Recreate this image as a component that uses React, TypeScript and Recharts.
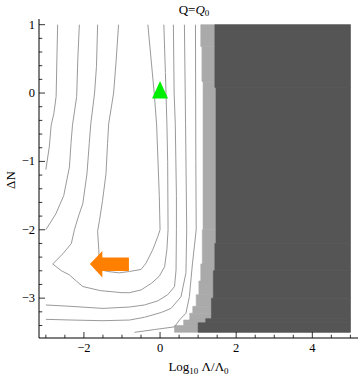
import React from 'react';
import { ScatterChart, Scatter, XAxis, YAxis, ReferenceArea } from 'recharts';

type Pt = [number, number];

// Contour lines (x = Log10 Λ/Λ0, y = ΔN)
const contourA: Pt[] = [[-2.69, 1.0], [-2.71, 0.5], [-2.73, -0.05], [-2.79, -0.3], [-2.86, -0.47], [-2.91, -0.79], [-3.0, -1.12]];
const contourB: Pt[] = [[-2.12, 1.0], [-2.16, 0.5], [-2.19, -0.05], [-2.3, -0.47], [-2.34, -0.74], [-2.38, -1.08], [-2.53, -1.5], [-2.74, -1.77], [-3.0, -2.0]];
const contourC: Pt[] = [[-1.64, 1.0], [-1.67, 0.39], [-1.72, 0.0], [-1.82, -0.45], [-1.86, -0.74], [-1.92, -1.18], [-2.03, -1.62], [-2.13, -1.78], [-2.25, -2.0], [-2.33, -2.2], [-2.55, -2.35], [-2.82, -2.5], [-2.59, -2.6], [-2.38, -2.66], [-2.2, -2.75], [-2.03, -2.83], [-1.57, -2.89], [-1.0, -2.92], [-0.8, -2.92], [-0.5, -2.88], [-0.22, -2.78], [-0.02, -2.68], [0.12, -2.54], [0.18, -2.29], [0.21, -2.0], [0.2, -1.0], [0.18, -0.45], [0.14, 0.3], [0.1, 1.0]];
const contourD: Pt[] = [[-1.09, 1.0], [-1.15, 0.5], [-1.22, 0.0], [-1.35, -0.45], [-1.38, -0.74], [-1.42, -1.18], [-1.51, -1.57], [-1.59, -1.86], [-1.64, -2.02], [-1.61, -2.29], [-1.59, -2.58], [-1.38, -2.61], [-1.07, -2.63], [-0.8, -2.61], [-0.5, -2.58], [-0.37, -2.49], [-0.19, -2.29], [-0.06, -2.1], [0.0, -2.0], [-0.02, -1.5], [-0.09, -0.47], [-0.15, -0.02], [-0.32, 1.0]];
const contourE: Pt[] = [[-3.0, -3.1], [-2.34, -3.12], [-1.5, -3.15], [-0.8, -3.13], [-0.41, -3.1], [-0.06, -3.04], [0.2, -2.95], [0.38, -2.83], [0.42, -2.59], [0.43, -2.0], [0.43, -1.5], [0.4, -0.45], [0.37, 0.0], [0.35, 1.0]];
const contourF: Pt[] = [[-3.0, -3.31], [-2.34, -3.32], [-1.5, -3.33], [-0.8, -3.32], [-0.41, -3.28], [0.03, -3.21], [0.29, -3.15], [0.55, -2.98], [0.68, -2.63], [0.7, -2.0], [0.67, -0.45], [0.64, 1.0]];
const contourG: Pt[] = [[-0.67, -3.5], [-0.15, -3.46], [0.38, -3.42], [0.51, -3.32], [0.68, -3.22], [0.77, -2.98], [0.85, -2.5], [0.95, -2.0], [0.94, -1.0], [0.93, 1.0]];
const contours: Pt[][] = [contourA, contourB, contourC, contourD, contourE, contourF, contourG];

// Excluded regions (horizontal strips: top y, bottom y, left edge x)
const lightTop = [1.0, 0.68, 0.17, -2.0, -2.5, -2.75, -2.95, -3.12, -3.22, -3.32, -3.4];
const lightBottom = [0.68, 0.17, -2.0, -2.5, -2.75, -2.95, -3.12, -3.22, -3.32, -3.4, -3.5];
const lightLeft = [1.07, 1.1, 1.13, 1.11, 1.07, 1.02, 0.95, 0.86, 0.78, 0.62, 0.38];
const darkTop = [1.0, 0.08, -2.2, -2.6, -3.0, -3.3, -3.36];
const darkBottom = [0.08, -2.2, -2.6, -3.0, -3.3, -3.36, -3.5];
const darkLeft = [1.44, 1.47, 1.44, 1.4, 1.35, 1.2, 1.0];
const regionRight = 5;

const markerTriangle = [{ x: 0, y: 0 }];
const markerArrow = [{ x: -1.33, y: -2.5 }];

const xTicks = [-3, -2.5, -2, -1.5, -1, -0.5, 0, 0.5, 1, 1.5, 2, 2.5, 3, 3.5, 4, 4.5, 5];
const xLabelTicks = [-2, 0, 2, 4];
const yTicks = [-3.4, -3.2, -3, -2.8, -2.6, -2.4, -2.2, -2, -1.8, -1.6, -1.4, -1.2, -1, -0.8, -0.6, -0.4, -0.2, 0, 0.2, 0.4, 0.6, 0.8, 1];
const yLabelTicks = [-3, -2, -1, 0, 1];

const FONT = '"Liberation Serif", "Times New Roman", serif';
const LINE = '#9a9a9a';
const isIn = (arr: number[], v: number) => arr.some((t) => Math.abs(t - v) < 1e-9);
const fmt = (v: number) => (v < 0 ? '\u2212' + Math.abs(v) : String(v));

const BottomTick = (p: any) => {
  const { x, y, payload } = p;
  const major = isIn(xLabelTicks, payload.value);
  return (
    <g>
      <line x1={x} x2={x} y1={y} y2={y - (major ? 6 : 3.3)} stroke="#000" strokeWidth={0.8} />
      {major && (
        <text x={x} y={y + 14} textAnchor="middle" fontSize={12.5} fontFamily={FONT} fill="#000">
          {fmt(payload.value)}
        </text>
      )}
    </g>
  );
};
const TopTick = (p: any) => {
  const { x, y, payload } = p;
  const major = isIn(xLabelTicks, payload.value);
  return <line x1={x} x2={x} y1={y} y2={y + (major ? 4.5 : 2.5)} stroke="#000" strokeWidth={0.8} />;
};
const LeftTick = (p: any) => {
  const { x, y, payload } = p;
  const major = isIn(yLabelTicks, payload.value);
  return (
    <g>
      <line x1={x} x2={x + (major ? 6 : 3.3)} y1={y} y2={y} stroke="#000" strokeWidth={0.8} />
      {major && (
        <text x={x - 4} y={y + 4} textAnchor="end" fontSize={12.5} fontFamily={FONT} fill="#000">
          {fmt(payload.value)}
        </text>
      )}
    </g>
  );
};
const RightTick = (p: any) => {
  const { x, y, payload } = p;
  const major = isIn(yLabelTicks, payload.value);
  return <line x1={x} x2={x - (major ? 4.5 : 2.5)} y1={y} y2={y} stroke="#000" strokeWidth={0.8} />;
};

const TriangleShape = (p: any) => {
  const { cx, cy } = p;
  return <polygon points={`${cx},${cy - 12} ${cx - 8},${cy + 5.5} ${cx + 8},${cy + 5.5}`} fill="#00ee00" />;
};
const ArrowShape = (p: any) => {
  const { cx, cy } = p;
  const tip = cx - 19.5;
  const back = cx + 19.5;
  const neck = tip + 12.4;
  return (
    <polygon
      points={`${tip},${cy} ${neck},${cy - 13} ${neck},${cy - 6.5} ${back},${cy - 6.5} ${back},${cy + 7} ${neck},${cy + 7} ${neck},${cy + 13.5}`}
      fill="#ff7f00"
    />
  );
};
const NoShape = () => <g />;

export default function App() {
  return (
    <div style={{ position: 'absolute', left: 0, top: 0, width: 360, height: 379, background: '#fff' }}>
      <ScatterChart width={360} height={379} margin={{ top: 19, right: 2, bottom: 0, left: 0 }}>
        <XAxis
          xAxisId={0}
          type="number"
          dataKey="x"
          domain={[-3.18, 5.2]}
          allowDataOverflow
          ticks={xTicks}
          interval={0}
          tickSize={0}
          tickMargin={0}
          tick={BottomTick}
          height={41}
          axisLine={{ stroke: '#000', strokeWidth: 1 }}
        />
        <XAxis
          xAxisId="top"
          orientation="top"
          type="number"
          dataKey="x"
          domain={[-3.18, 5.2]}
          allowDataOverflow
          ticks={xTicks}
          interval={0}
          tickSize={0}
          tickMargin={0}
          tick={TopTick}
          height={0}
          axisLine={{ stroke: '#000', strokeWidth: 1 }}
        />
        <YAxis
          yAxisId={0}
          type="number"
          dataKey="y"
          domain={[-3.583, 1.083]}
          allowDataOverflow
          ticks={yTicks}
          interval={0}
          tickSize={0}
          tickMargin={0}
          tick={LeftTick}
          width={39}
          axisLine={{ stroke: '#000', strokeWidth: 1 }}
        />
        <YAxis
          yAxisId="right"
          orientation="right"
          type="number"
          dataKey="y"
          domain={[-3.583, 1.083]}
          allowDataOverflow
          ticks={yTicks}
          interval={0}
          tickSize={0}
          tickMargin={0}
          tick={RightTick}
          width={0}
          axisLine={{ stroke: '#000', strokeWidth: 1 }}
        />
        {lightTop.map((t, i) => (
          <ReferenceArea
            key={'l' + i}
            x1={lightLeft[i]}
            x2={regionRight}
            y1={lightBottom[i]}
            y2={t}
            fill="#aaaaaa"
            fillOpacity={1}
            stroke="#aaaaaa"
            strokeWidth={0.6}
          />
        ))}
        {darkTop.map((t, i) => (
          <ReferenceArea
            key={'d' + i}
            x1={darkLeft[i]}
            x2={regionRight}
            y1={darkBottom[i]}
            y2={t}
            fill="#555555"
            fillOpacity={1}
            stroke="#555555"
            strokeWidth={0.6}
          />
        ))}
        {contours.map((c, i) => (
          <Scatter
            key={'c' + i}
            data={c.map(([x, y]) => ({ x, y }))}
            line={{ stroke: LINE, strokeWidth: 1 }}
            lineType="joint"
            shape={NoShape}
            fill={LINE}
            isAnimationActive={false}
          />
        ))}
        <Scatter data={markerTriangle} shape={TriangleShape} isAnimationActive={false} />
        <Scatter data={markerArrow} shape={ArrowShape} isAnimationActive={false} />
      </ScatterChart>
      <svg width={360} height={379} style={{ position: 'absolute', left: 0, top: 0, pointerEvents: 'none' }}>
        <text x={194} y={13.5} textAnchor="middle" fontSize={13} fontFamily={FONT} fill="#000">
          Q=<tspan fontStyle="italic">Q</tspan>
          <tspan fontSize={9} dy={2}>0</tspan>
        </text>
        <text x={198.5} y={370.5} textAnchor="middle" fontSize={13} fontFamily={FONT} fill="#000">
          Log<tspan fontSize={9} dy={3}>10</tspan>
          <tspan dy={-3}> Λ/Λ</tspan>
          <tspan fontSize={9} dy={3}>0</tspan>
        </text>
        <text x={15} y={180} textAnchor="middle" fontSize={13} fontFamily={FONT} fill="#000" transform="rotate(-90 15 180)">
          ΔN
        </text>
      </svg>
    </div>
  );
}
